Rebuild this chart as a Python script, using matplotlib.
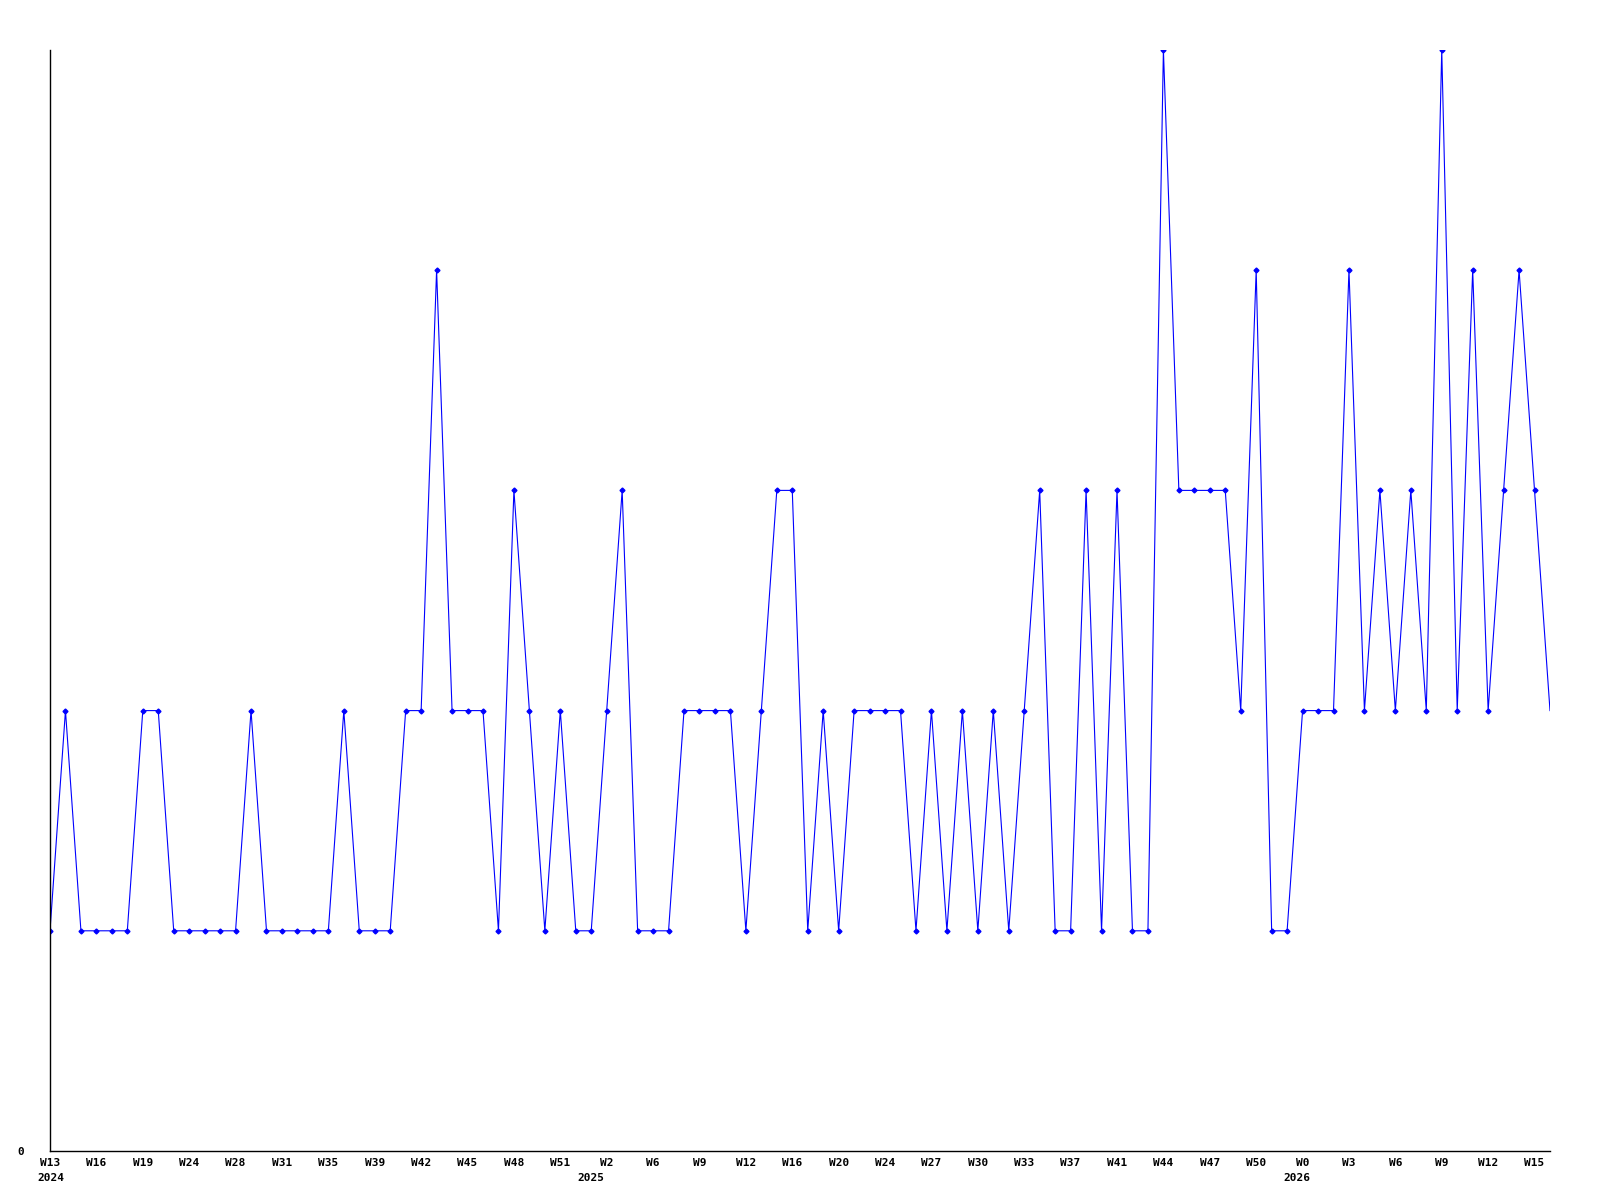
import numpy as np
import matplotlib
matplotlib.use('Agg')
import matplotlib.pyplot as plt
import matplotlib.transforms as mtransforms

values = [1, 2, 1, 1, 1, 1, 2, 2, 1, 1,
          1, 1, 1, 2, 1, 1, 1, 1, 1, 2,
          1, 1, 1, 2, 2, 4, 2, 2, 2, 1,
          3, 2, 1, 2, 1, 1, 2, 3, 1, 1,
          1, 2, 2, 2, 2, 1, 2, 3, 3, 1,
          2, 1, 2, 2, 2, 2, 1, 2, 1, 2,
          1, 2, 1, 2, 3, 1, 1, 3, 1, 3,
          1, 1, 5, 3, 3, 3, 3, 2, 4, 1,
          1, 2, 2, 2, 4, 2, 3, 2, 3, 2,
          5, 2, 4, 2, 3, 4, 3, 2]

week_labels = ['W13', 'W16', 'W19', 'W24', 'W28', 'W31', 'W35', 'W39', 'W42',
               'W45', 'W48', 'W51', 'W2', 'W6', 'W9', 'W12', 'W16', 'W20',
               'W24', 'W27', 'W30', 'W33', 'W37', 'W41', 'W44', 'W47', 'W50',
               'W0', 'W3', 'W6', 'W9', 'W12', 'W15']
# tick index -> year shown under it
year_labels = {0: '2024', 12: '2025', 27: '2026'}
year_shift_px = {0: -13, 12: -29, 27: -19}


def plot_weekly(values):
    x = np.arange(len(values))
    fig = plt.figure(figsize=(16, 12), dpi=100)
    ax = fig.add_axes([50 / 1600, 1 - 1151 / 1200, 1500 / 1600, 1101 / 1200])

    # last week is incomplete, no marker on it
    ax.plot(x, values, color='#0000ff', lw=0.8, marker='D', ms=2.5,
            markevery=list(range(len(values) - 1)))

    ax.set_xlim(0, len(values) - 1)
    ax.set_ylim(0, 5)

    for side in ['top', 'right']:
        ax.spines[side].set_visible(False)
    for side in ['left', 'bottom']:
        ax.spines[side].set_linewidth(1)

    font = dict(family='DejaVu Sans Mono', weight='bold', size=8)
    tick_pos = x[::3]
    ax.set_xticks(tick_pos)
    ax.set_xticklabels(week_labels, **font)
    ax.set_yticks([0])
    ax.set_yticklabels(['0'], **font)
    ax.tick_params(axis='both', length=0, pad=5)
    ax.tick_params(axis='y', pad=18.7)

    trans = mtransforms.blended_transform_factory(ax.transData, ax.transAxes)
    for idx, year in year_labels.items():
        t = mtransforms.offset_copy(trans, fig=fig, x=year_shift_px[idx],
                                    y=0, units='dots')
        ax.text(tick_pos[idx], -0.020, year, transform=t, ha='left',
                va='top', **font)

    fig.savefig('out.png', dpi=100)


if __name__ == '__main__':
    plot_weekly(values)
